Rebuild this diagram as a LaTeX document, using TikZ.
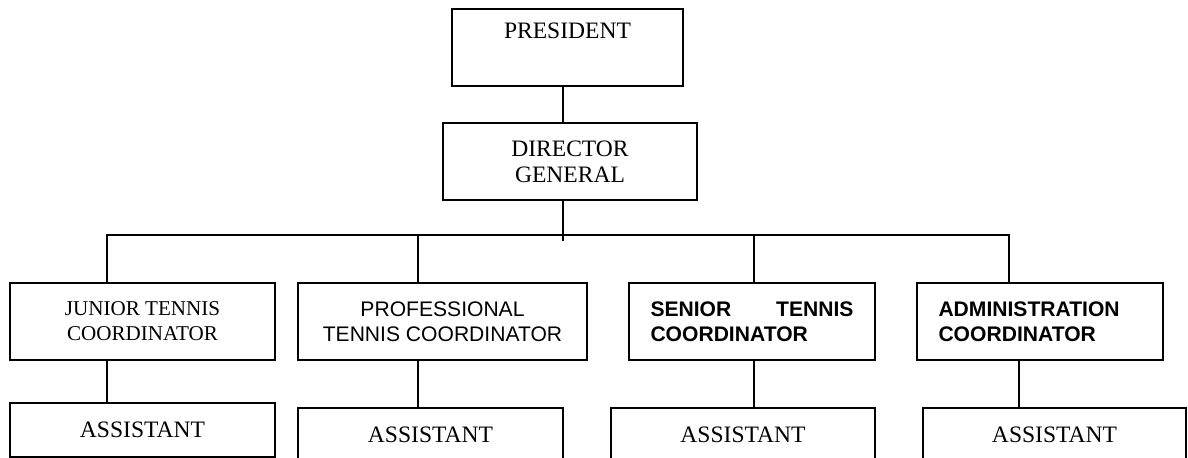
\documentclass[tikz,border=0pt]{standalone}
\usepackage{fontspec}
\setmainfont{Liberation Serif}
\setsansfont{Liberation Sans}
\newcommand{\serifbig}{\fontsize{13.4pt}{14.8pt}\selectfont}
\newcommand{\seriflow}{\fontsize{12pt}{14.2pt}\selectfont}
\newcommand{\sanslow}{\sffamily\fontsize{12pt}{14.2pt}\selectfont}
\begin{document}
\begin{tikzpicture}[line width=1.1pt]
    \tikzset{box/.style=  {draw,
                           rectangle,
                           align=center,
                           minimum height=1.54cm},
             coord/.style={box,
                           minimum width=4.92cm,
                           text width=4.06cm,
                           align=left,
                           font=\sanslow\bfseries},
             asst/.style= {draw,
                           rectangle,
                           minimum width=5.3cm,
                           minimum height=1.08cm,
                           font=\serifbig},
            }
    \useasboundingbox (0,0) rectangle (23.76,9.16);
    \clip (0,0) rectangle (23.76,9.16);
    \path
    (11.35,8.21) node[box, minimum width=4.62cm, font=\serifbig](p) {PRESIDENT\\\strut}
    (11.40,5.93) node[box, minimum width=5.08cm, font=\serifbig](d) {DIRECTOR\\GENERAL}
    (2.85,2.73)  node[box, minimum width=5.30cm, font=\seriflow](j) {JUNIOR TENNIS\\COORDINATOR}
    (8.85,2.73)  node[box, minimum width=5.78cm, font=\sanslow](pr) {PROFESSIONAL\\TENNIS COORDINATOR}
    (15.04,2.73) node[coord](s) {SENIOR\hfill TENNIS\\COORDINATOR}
    (20.80,2.73) node[coord](a) {ADMINISTRATION\\COORDINATOR}
    (2.85,0.56)  node[asst](j1) {ASSISTANT}
    (8.61,0.46)  node[asst](p1) {ASSISTANT}
    (14.86,0.46) node[asst, minimum width=5.28cm](s1) {ASSISTANT}
    (21.09,0.46) node[asst, minimum width=5.26cm](a1) {ASSISTANT}
    ;
    \coordinate (hub) at (11.26,4.34);
    \coordinate (jb)  at (2.14,4.46);
    \coordinate (pb)  at (8.36,4.46);
    \coordinate (sb)  at (15.08,4.46);
    \coordinate (ab)  at (20.18,4.46);
    \coordinate (ad)  at (20.38,0);
    \draw (p.south -| hub) -- (d.north -| hub);
    \draw (d.south -| hub) -- (hub);
    \draw (j.north -| jb) -- (jb) -- (ab) -- (a.north -| ab);
    \draw (pb) -- (pr.north -| pb);
    \draw (sb) -- (s.north -| sb);
    \draw (j.south -| jb)  -- (j1.north -| jb);
    \draw (pr.south -| pb) -- (p1.north -| pb);
    \draw (s.south -| sb)  -- (s1.north -| sb);
    \draw (a.south -| ad)  -- (a1.north -| ad);
\end{tikzpicture}
\end{document}
